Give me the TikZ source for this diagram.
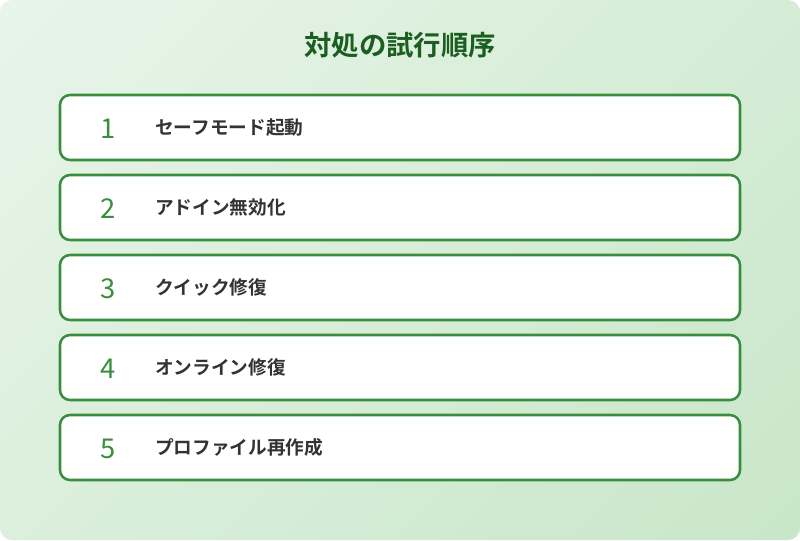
\documentclass[tikz,border=0pt]{standalone}
\usepackage{fontspec}
\setmainfont{Noto Sans CJK JP}
\newfontfamily\jpbold{Noto Sans CJK JP Bold}
\usetikzlibrary{positioning}
\definecolor{bgA}{HTML}{E8F5E9}
\definecolor{bgB}{HTML}{C8E6C9}
\definecolor{boxline}{HTML}{388E3C}
\definecolor{titlecol}{HTML}{1B5E20}
\definecolor{txtcol}{HTML}{333333}
\definecolor{numcol}{HTML}{388E3C}
\tikzset{
  stepbox/.style={draw=boxline, line width=1.9pt, fill=white, rounded corners=7.5pt,
    minimum width=510pt, minimum height=48.75pt, inner sep=0pt},
  numlabel/.style={text=numcol, font=\fontsize{20.5}{22}\selectfont, anchor=center, inner sep=0pt},
  steplabel/.style={text=txtcol, font=\jpbold\fontsize{14}{16}\selectfont, anchor=west, inner sep=0pt},
}
\begin{document}
\begin{tikzpicture}[x=0.75pt,y=-0.75pt]
\useasboundingbox (0,0) rectangle (800,540);
\begin{scope}
  \clip[rounded corners=9pt] (0,0) rectangle (800,540);
  \shade[left color=bgA, right color=bgB, shading angle=45]
    (-73.75,-203.75) rectangle (873.75,743.75);
\end{scope}
\node[text=titlecol, font=\jpbold\fontsize{20.5}{22}\selectfont] (title) at (400,45) {対処の試行順序};
\foreach \i/\t in {1/セーフモード起動,2/アドイン無効化,3/クイック修復,4/オンライン修復,5/プロファイル再作成}{
  \node[stepbox] (box\i) at (400,{127.5+80*(\i-1)}) {};
  \node[numlabel] (num\i) at (108,{128.5+80*(\i-1)}) {\i};
  \node[steplabel] (lab\i) at (155,{127.5+80*(\i-1)}) {\t};
}
\end{tikzpicture}
\end{document}
